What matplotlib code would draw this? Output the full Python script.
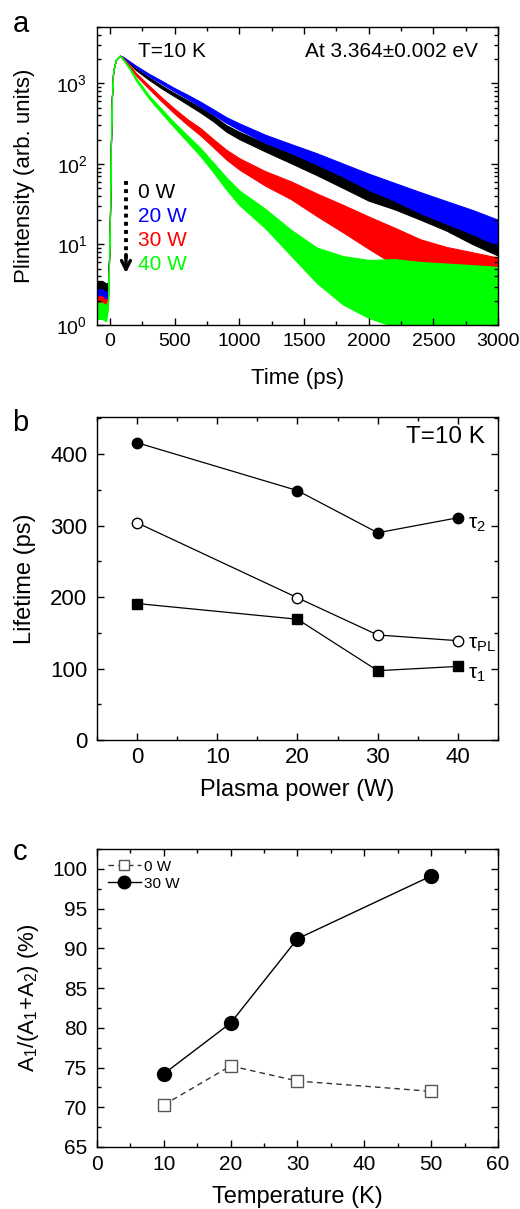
import matplotlib
matplotlib.use('Agg')
import matplotlib.pyplot as plt
import numpy as np
from matplotlib.ticker import MultipleLocator, LogLocator, NullFormatter

plt.rcParams['font.family'] = ['Liberation Sans', 'DejaVu Sans']
plt.rcParams['mathtext.fontset'] = 'custom'
plt.rcParams['mathtext.rm'] = 'Liberation Sans'
plt.rcParams['mathtext.it'] = 'Liberation Sans:italic'
plt.rcParams['mathtext.default'] = 'regular'
plt.rcParams['axes.linewidth'] = 1.0

# ---- panel a: PL decay traces at 10 K ----
time_ps = [-100, -60, -30, -15, -5, 0, 7, 15, 25, 45, 77,
           100, 150, 200, 300, 400, 500, 600, 700, 800, 900, 1000,
           1200, 1400, 1600, 1800, 2000, 2200, 2400, 2600, 2800, 3000]
rise = [20, 150, 650, 1400, 1950, 2200]

pl_0w = [2.8, 2.8, 2.6, 3.0, 8] + rise + [
    2100, 1800, 1500, 1150, 900, 720, 580, 465, 365, 275, 225,
    160, 117, 86, 62, 45, 36, 28, 21, 15, 11]
pl_20w = [2.2, 2.2, 2.0, 2.5, 8] + rise + [
    2100, 1850, 1620, 1270, 1030, 830, 680, 550, 440, 350, 290,
    205, 155, 115, 84, 60, 45, 33, 25, 19, 14]
pl_30w = [1.8, 1.8, 1.6, 2.0, 8] + rise + [
    2050, 1650, 1300, 900, 630, 450, 330, 250, 180, 130, 100,
    66, 47, 31, 21, 14, 9.5, 6.5, 5.0, 4.2, 3.6]
pl_40w = [1.5, 1.5, 1.4, 1.8, 8] + rise + [
    2000, 1550, 1130, 680, 450, 300, 205, 140, 90, 57, 38,
    21, 10.5, 5.5, 3.6, 2.8, 2.5, 2.3, 2.2, 2.1, 2.0]

# half width of the noise band, in decades
pre = [0.1, 0.1, 0.1, 0.05, 0, 0, 0, 0, 0, 0, 0]
noise_0w = pre + [0.005, 0.008, 0.01, 0.015, 0.018, 0.02, 0.025, 0.03, 0.035, 0.04, 0.045,
                  0.05, 0.06, 0.075, 0.09, 0.11, 0.12, 0.14, 0.15, 0.17, 0.18]
noise_20w = pre + [0.005, 0.008, 0.01, 0.015, 0.018, 0.02, 0.025, 0.03, 0.032, 0.035, 0.04,
                   0.05, 0.055, 0.07, 0.08, 0.1, 0.11, 0.13, 0.14, 0.15, 0.16]
noise_30w = pre + [0.005, 0.01, 0.015, 0.02, 0.025, 0.03, 0.035, 0.045, 0.05, 0.06, 0.07,
                   0.09, 0.11, 0.14, 0.17, 0.2, 0.23, 0.25, 0.27, 0.28, 0.28]
noise_40w = pre + [0.005, 0.01, 0.015, 0.02, 0.025, 0.03, 0.04, 0.05, 0.06, 0.075, 0.09,
                   0.12, 0.16, 0.22, 0.3, 0.36, 0.42, 0.42, 0.42, 0.42, 0.42]

powers = ['0 W', '20 W', '30 W', '40 W']
colors = ['black', '#0000ff', '#ff0000', '#00ff00']

# ---- panel b: lifetimes vs plasma power ----
power_w = [0, 20, 30, 40]
tau2 = [416, 349, 290, 311]
tau_pl = [304, 199, 147, 139]
tau1 = [191, 169, 97, 103]

# ---- panel c: A1/(A1+A2) vs temperature ----
temp_k = [10, 20, 30, 50]
ratio_0w = [70.3, 75.2, 73.3, 72.0]
ratio_30w = [74.2, 80.6, 91.2, 99.1]

fig = plt.figure(figsize=(5.2, 12.09), dpi=100)
ax_a = fig.add_axes([0.1865, 0.7312, 0.7712, 0.2465])
ax_b = fig.add_axes([0.1865, 0.3879, 0.7712, 0.2672])
ax_c = fig.add_axes([0.1865, 0.0513, 0.7712, 0.2465])


def style(ax, size, xpad):
    ax.tick_params(which='both', direction='in', top=True, right=True,
                   labelsize=size, width=1)
    ax.tick_params(axis='x', pad=xpad)
    ax.tick_params(axis='y', pad=7)
    ax.tick_params(which='major', length=5)
    ax.tick_params(which='minor', length=3)


def place_labels(ax, xl, yl, xs, ys, xy, yx=-0.18):
    ax.set_xlabel(xl, fontsize=xs, va='center')
    ax.set_ylabel(yl, fontsize=ys, va='center')
    ax.xaxis.set_label_coords(0.5, xy)
    ax.yaxis.set_label_coords(yx, 0.5)


# panel a
t = np.array(time_ps)
for vals, nz, c in zip([pl_0w, pl_20w, pl_30w, pl_40w],
                       [noise_0w, noise_20w, noise_30w, noise_40w], colors):
    v = np.array(vals, dtype=float)
    w = 10 ** np.array(nz)
    ax_a.fill_between(t, v / w, v * w, facecolor=c, edgecolor=c, lw=0.8)
ax_a.set_yscale('log')
ax_a.set_xlim(-100, 3000)
ax_a.set_ylim(1, 5000)
ax_a.xaxis.set_major_locator(MultipleLocator(500))
ax_a.xaxis.set_minor_locator(MultipleLocator(250))
ax_a.yaxis.set_major_locator(LogLocator(base=10, numticks=10))
ax_a.yaxis.set_minor_locator(LogLocator(base=10, subs=np.arange(2, 10), numticks=20))
ax_a.yaxis.set_minor_formatter(NullFormatter())
style(ax_a, 14, 6)
place_labels(ax_a, 'Time (ps)', 'Plintensity (arb. units)', 16, 16, -0.178)
ax_a.text(0.102, 0.916, 'T=10 K', transform=ax_a.transAxes, fontsize=15, va='center')
ax_a.text(0.95, 0.916, 'At 3.364\u00b10.002 eV', transform=ax_a.transAxes,
          fontsize=15, va='center', ha='right')
for i, (lab, c) in enumerate(zip(powers, colors)):
    ax_a.text(0.102, 0.446 - i * 0.081, lab, color=c, fontsize=15,
              transform=ax_a.transAxes, va='center')
ax_a.plot([124, 124], [62, 6.5], ls=(0, (1, 1.1)), lw=2.8, color='black')
ax_a.annotate('', xy=(124, 4.4), xytext=(124, 7.5),
              arrowprops=dict(arrowstyle='->', lw=2.4, color='black',
                              mutation_scale=16, shrinkA=0, shrinkB=0))

# panel b
ax_b.plot(power_w, tau2, '-o', color='black', lw=0.9, ms=7.5, mfc='black')
ax_b.plot(power_w, tau_pl, '-o', color='black', lw=0.9, ms=7.5, mfc='white')
ax_b.plot(power_w, tau1, '-s', color='black', lw=0.9, ms=6.5, mfc='black')
ax_b.set_xlim(-5, 45)
ax_b.set_ylim(0, 452)
ax_b.xaxis.set_major_locator(MultipleLocator(10))
ax_b.xaxis.set_minor_locator(MultipleLocator(5))
ax_b.yaxis.set_major_locator(MultipleLocator(100))
ax_b.yaxis.set_minor_locator(MultipleLocator(50))
style(ax_b, 16, 5)
place_labels(ax_b, 'Plasma power (W)', 'Lifetime (ps)', 17, 17, -0.155)
ax_b.text(0.968, 0.938, 'T=10 K', transform=ax_b.transAxes, fontsize=17.5,
          va='center', ha='right')
ax_b.text(41.2, 302, '\u03c4$_{2}$', fontsize=15, va='center')
ax_b.text(41.2, 133, '\u03c4$_{PL}$', fontsize=15, va='center')
ax_b.text(41.2, 92, '\u03c4$_{1}$', fontsize=15, va='center')

# panel c
ax_c.plot(temp_k, ratio_0w, '--s', color='#333333', lw=1.0, ms=8,
          mfc='white', mec='#555555', mew=1.0, dashes=(4, 3), label='0 W')
ax_c.plot(temp_k, ratio_30w, '-o', color='black', lw=1.0, ms=10,
          mfc='black', label='30 W')
ax_c.set_xlim(0, 60)
ax_c.set_ylim(65, 102.5)
ax_c.xaxis.set_major_locator(MultipleLocator(10))
ax_c.xaxis.set_minor_locator(MultipleLocator(5))
ax_c.yaxis.set_major_locator(MultipleLocator(5))
ax_c.yaxis.set_minor_locator(MultipleLocator(2.5))
style(ax_c, 15, 6)
place_labels(ax_c, 'Temperature (K)', 'A$_1$/(A$_1$+A$_2$) (%)', 17, 16, -0.168, -0.17)
ax_c.legend(loc='upper left', frameon=False, fontsize=11, handlelength=2.2,
            handletextpad=0.2, labelspacing=0.2, borderaxespad=0.3,
            markerscale=0.9)

fig.text(0.024, 0.992, 'a', fontsize=21, va='top')
fig.text(0.024, 0.662, 'b', fontsize=21, va='top')
fig.text(0.024, 0.307, 'c', fontsize=21, va='top')

fig.savefig('out.png', dpi=100)
